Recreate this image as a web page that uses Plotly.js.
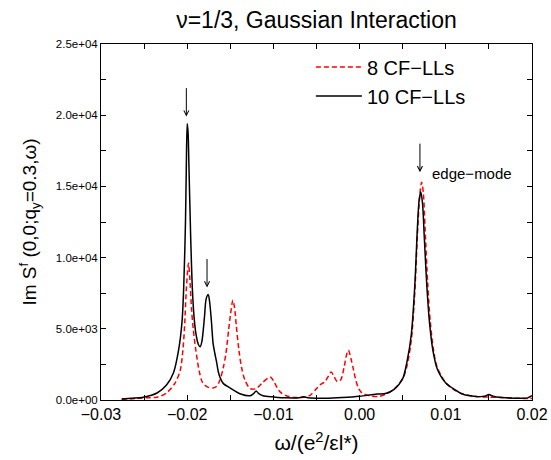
<!DOCTYPE html>
<html>
<head>
<meta charset="utf-8">
<script src="https://cdn.plot.ly/plotly-3.0.1.min.js"></script>
<style>html,body{margin:0;padding:0;background:#fff;}#chart{width:551px;height:460px;}</style>
</head>
<body>
<div id="chart"></div>
<script>
// 10 CF-LLs (black solid)
const omega10 = [-0.0276,-0.0265,-0.0251,-0.0235,-0.0224,-0.0216,-0.0210,-0.0206,-0.0204,-0.0202,-0.0201,-0.0200,-0.0199,-0.0198,-0.0196,-0.0194,-0.0192,-0.0190,-0.0187,-0.0185,-0.0183,-0.0180,-0.0178,-0.01755,-0.0174,-0.0172,-0.0170,-0.0168,-0.0166,-0.0164,-0.0162,-0.0158,-0.0150,-0.0138,-0.0127,-0.0123,-0.0120,-0.0117,-0.0112,-0.0100,-0.0085,-0.0070,-0.0065,-0.0060,-0.0040,-0.0020,0.0000,0.0020,0.0030,0.0040,0.0050,0.0055,0.0060,0.0064,0.0067,0.0069,0.0071,0.0073,0.0075,0.0078,0.0081,0.0085,0.0090,0.0100,0.0110,0.0120,0.0135,0.0145,0.0150,0.0155,0.0165,0.0180,0.0195,0.0200];
const ims10 = [70,130,200,490,1050,1900,3500,5500,8000,12500,16500,19400,18800,16500,11500,7800,5800,4700,3900,3740,4100,5800,7100,7400,6900,5600,4000,3300,2700,2000,1600,1150,840,420,300,450,630,450,300,220,150,160,220,150,120,170,260,420,450,750,1500,2700,4600,8000,12000,14000,14600,13800,11500,8000,5500,3500,2200,1200,750,400,250,260,380,260,170,130,150,300];

// 8 CF-LLs (red dashed)
const omega8 = [-0.0276,-0.0260,-0.0251,-0.0235,-0.0224,-0.0214,-0.0208,-0.0205,-0.0203,-0.0201,-0.01985,-0.0197,-0.0195,-0.0193,-0.0190,-0.0186,-0.0182,-0.0176,-0.0170,-0.0166,-0.0162,-0.0158,-0.0155,-0.0152,-0.0150,-0.0147,-0.0145,-0.0143,-0.0140,-0.0137,-0.0133,-0.0127,-0.0120,-0.0113,-0.0106,-0.0103,-0.0100,-0.0096,-0.0092,-0.0085,-0.0075,-0.0065,-0.0057,-0.0050,-0.0045,-0.0040,-0.0036,-0.0033,-0.0030,-0.0026,-0.0022,-0.0018,-0.0015,-0.0013,-0.0010,-0.0007,-0.0004,-0.0001,0.0003,0.0013,0.0022,0.0030,0.0040,0.0050,0.0055,0.0060,0.0064,0.0067,0.0070,0.0072,0.0074,0.0076,0.0079,0.0082,0.0086,0.0090,0.0100,0.0110,0.0120,0.0135,0.0150,0.0165,0.0180,0.0195,0.0200];
const ims8 = [50,100,150,200,490,1200,2100,3500,5200,7800,9600,8600,6400,5000,3500,2000,1200,900,850,950,1400,2300,3300,4900,5900,7000,6450,5200,3500,2300,1400,800,800,1200,1550,1600,1350,900,550,300,180,200,350,800,1100,1300,1700,1970,1700,1300,1400,2300,3200,3500,2900,2100,1300,800,490,280,250,400,750,1500,2400,4200,7500,11500,14500,15300,14500,12000,8200,5500,3400,2300,1200,700,420,250,200,170,130,100,100];

const seriesNames = ["8 CF\u2212LLs", "10 CF\u2212LLs"];

const xTickVals = [-0.03,-0.02,-0.01,0.00,0.01,0.02];
const xTickText = ["\u22120.03","\u22120.02","\u22120.01","0.00","0.01","0.02"];
const yTickVals = [0,5000,10000,15000,20000,25000];
const yTickText = ["0.0e+00","5.0e+03","1.0e+04","1.5e+04","2.0e+04","2.5e+04"];

const arrowX = [-0.0201, -0.0177, 0.0070];
const arrowY = [19900, 7900, 16000];
const edgeLabel = "edge\u2212mode";
const edgeLabelX = 0.0082;
const edgeLabelY = 15900;

const font = "Liberation Sans, Arial, Helvetica, sans-serif";

const traces = [
  {x: omega8, y: ims8, name: seriesNames[0], type: "scatter", mode: "lines",
   line: {color: "#ff0000", width: 1.5, dash: "5px,3px", shape: "spline", smoothing: 0.8}},
  {x: omega10, y: ims10, name: seriesNames[1], type: "scatter", mode: "lines",
   line: {color: "#000000", width: 1.5, shape: "spline", smoothing: 0.8}}
];

const annotations = arrowX.map((ax, i) => ({
  x: ax, y: arrowY[i], xref: "x", yref: "y", text: "", showarrow: true,
  arrowhead: 5, arrowsize: 1, arrowwidth: 1, arrowcolor: "#000", ax: 0, ay: -30
}));
annotations.push({x: edgeLabelX, y: edgeLabelY, xref: "x", yref: "y", text: edgeLabel,
  showarrow: false, xanchor: "left", yanchor: "middle", font: {family: font, size: 15, color: "#000"}});

const axisCommon = {
  showline: true, linecolor: "#000", linewidth: 1, mirror: "allticks",
  ticks: "inside", ticklen: 5, tickcolor: "#000", tickwidth: 1,
  showgrid: false, zeroline: false, tickmode: "array"
};

const layout = {
  width: 551, height: 460,
  margin: {l: 101, r: 19, t: 44, b: 60},
  paper_bgcolor: "#fff", plot_bgcolor: "#fff",
  font: {family: font, color: "#000"},
  title: {text: "\u03bd=1/3, Gaussian Interaction", font: {family: font, size: 23, color: "#000"},
          x: 0.5, xref: "paper", xanchor: "center", y: 0.957, yref: "container", yanchor: "middle"},
  xaxis: Object.assign({}, axisCommon, {
    range: [-0.03, 0.02], tickvals: xTickVals, ticktext: xTickText,
    tickfont: {family: font, size: 16, color: "#000"},
    minor: {dtick: 0.005, ticks: "inside", ticklen: 5, tickcolor: "#000", showgrid: false, tick0: 0},
    title: {text: "\u03c9/(e<sup>2</sup>/\u03b5l*)", font: {family: font, size: 21, color: "#000"}, standoff: 13}
  }),
  yaxis: Object.assign({}, axisCommon, {
    range: [0, 25000], tickvals: yTickVals, ticktext: yTickText,
    tickfont: {family: font, size: 11.5, color: "#000"},
    minor: {dtick: 2500, ticks: "inside", ticklen: 5, tickcolor: "#000", showgrid: false, tick0: 0},
    title: {text: "Im S<sup>f</sup> (0,0;q<sub>y</sub>=0.3,\u03c9)", font: {family: font, size: 19, color: "#000"}, standoff: 14}
  }),
  showlegend: true,
  legend: {x: 0.487, y: 0.99, xanchor: "left", yanchor: "top", bgcolor: "rgba(0,0,0,0)",
           itemwidth: 46,
           font: {family: font, size: 20, color: "#000"}, borderwidth: 0},
  annotations: annotations
};

Plotly.newPlot("chart", traces, layout, {staticPlot: true, displayModeBar: false});
</script>
</body>
</html>
